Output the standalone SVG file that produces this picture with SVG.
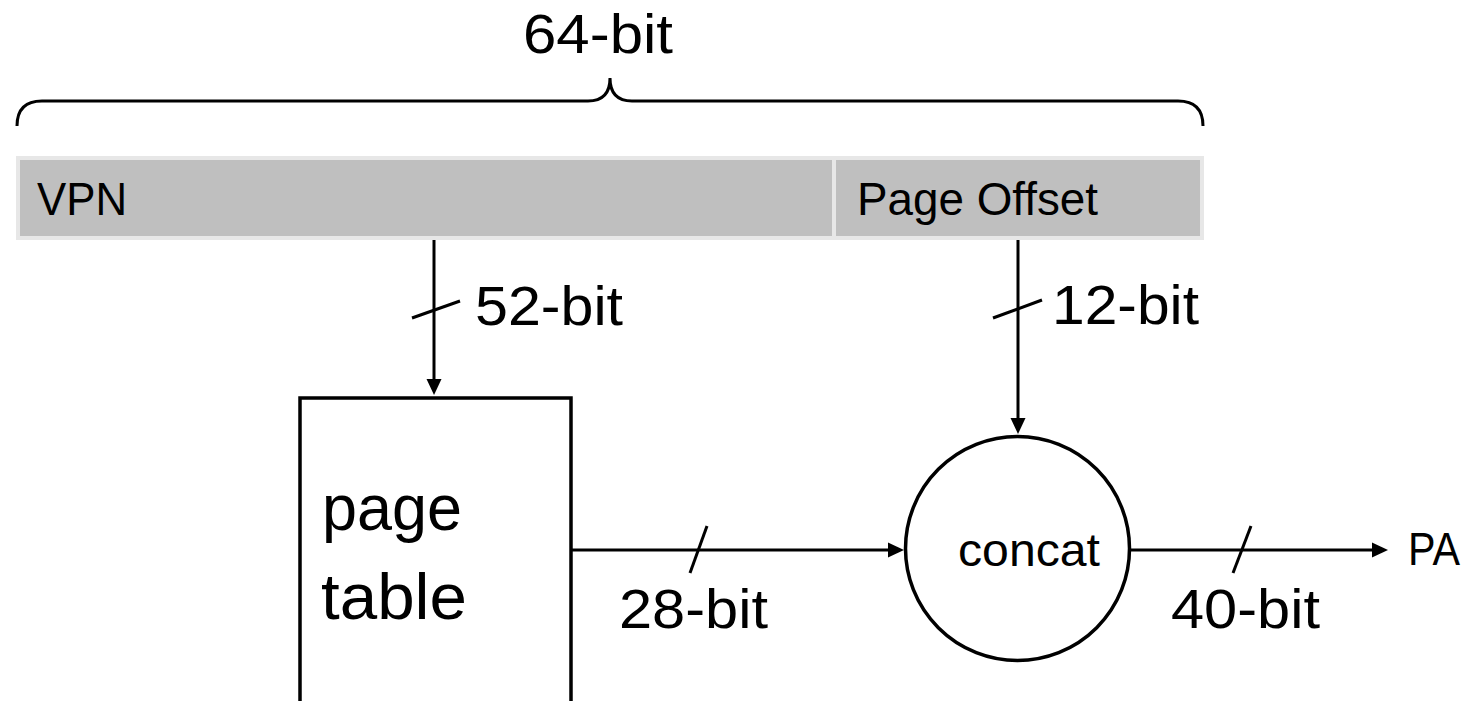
<svg xmlns="http://www.w3.org/2000/svg" width="1468" height="701" viewBox="0 0 1468 701">
<defs>
<style>
text{font-family:"Liberation Sans",Arial,sans-serif;fill:#000}
.lbl{font-size:56px}
.sm{font-size:47px}
.big{font-size:64px}
.wire{stroke:#000;stroke-width:3;fill:none}
.field{fill:#bfbfbf;stroke:#e7e7e7;stroke-width:4}
.shape{fill:#fff;stroke:#000;stroke-width:3.5}
</style>
<marker id="arr" viewBox="0 0 16 16" markerWidth="16" markerHeight="16" refX="0" refY="8" orient="auto" markerUnits="userSpaceOnUse">
<path d="M0,0.5 L16,8 L0,15.5 Z" fill="#000"/>
</marker>
</defs>
<rect width="1468" height="701" fill="#fff"/>

<g id="brace">
<path class="wire" d="M17,126 Q17,101 42,101 L588,101 C603,101 610,93 610,78 C610,93 617,101 632,101 L1178,101 Q1203,101 1203,126"/>
<text class="lbl" x="523" y="53" textLength="150" lengthAdjust="spacingAndGlyphs">64-bit</text>
</g>

<g id="vpn">
<rect class="field" x="18" y="158" width="816" height="80"/>
<text class="sm" x="37" y="215" textLength="90" lengthAdjust="spacingAndGlyphs">VPN</text>
</g>

<g id="page-offset">
<rect class="field" x="834" y="158" width="368" height="80"/>
<text class="sm" x="857" y="215" textLength="241" lengthAdjust="spacingAndGlyphs">Page Offset</text>
</g>

<g id="page-table">
<rect class="shape" x="300" y="398" width="271" height="320"/>
<text class="big" x="322" y="530" textLength="140" lengthAdjust="spacingAndGlyphs">page</text>
<text class="big" x="321" y="619" textLength="146" lengthAdjust="spacingAndGlyphs">table</text>
</g>

<g id="concat">
<circle class="shape" cx="1017.5" cy="548.5" r="112"/>
<text class="sm" x="958" y="566" textLength="142" lengthAdjust="spacingAndGlyphs">concat</text>
</g>

<g id="pa">
<text class="sm" x="1408" y="565" textLength="52" lengthAdjust="spacingAndGlyphs">PA</text>
</g>

<g id="connectors">
<line class="wire" x1="434" y1="240" x2="434" y2="379" marker-end="url(#arr)"/>
<line class="wire" x1="412" y1="318" x2="460" y2="301"/>
<text class="lbl" x="475" y="325" textLength="148" lengthAdjust="spacingAndGlyphs">52-bit</text>

<line class="wire" x1="1018" y1="240" x2="1018" y2="418" marker-end="url(#arr)"/>
<line class="wire" x1="993" y1="318" x2="1042" y2="300"/>
<text class="lbl" x="1052" y="324" textLength="147" lengthAdjust="spacingAndGlyphs">12-bit</text>

<line class="wire" x1="572" y1="550" x2="888" y2="550" marker-end="url(#arr)"/>
<line class="wire" x1="690" y1="573" x2="707" y2="526"/>
<text class="lbl" x="619" y="628" textLength="149" lengthAdjust="spacingAndGlyphs">28-bit</text>

<line class="wire" x1="1131" y1="550" x2="1372" y2="550" marker-end="url(#arr)"/>
<line class="wire" x1="1233" y1="573" x2="1251" y2="526"/>
<text class="lbl" x="1171" y="628" textLength="149" lengthAdjust="spacingAndGlyphs">40-bit</text>
</g>
</svg>
